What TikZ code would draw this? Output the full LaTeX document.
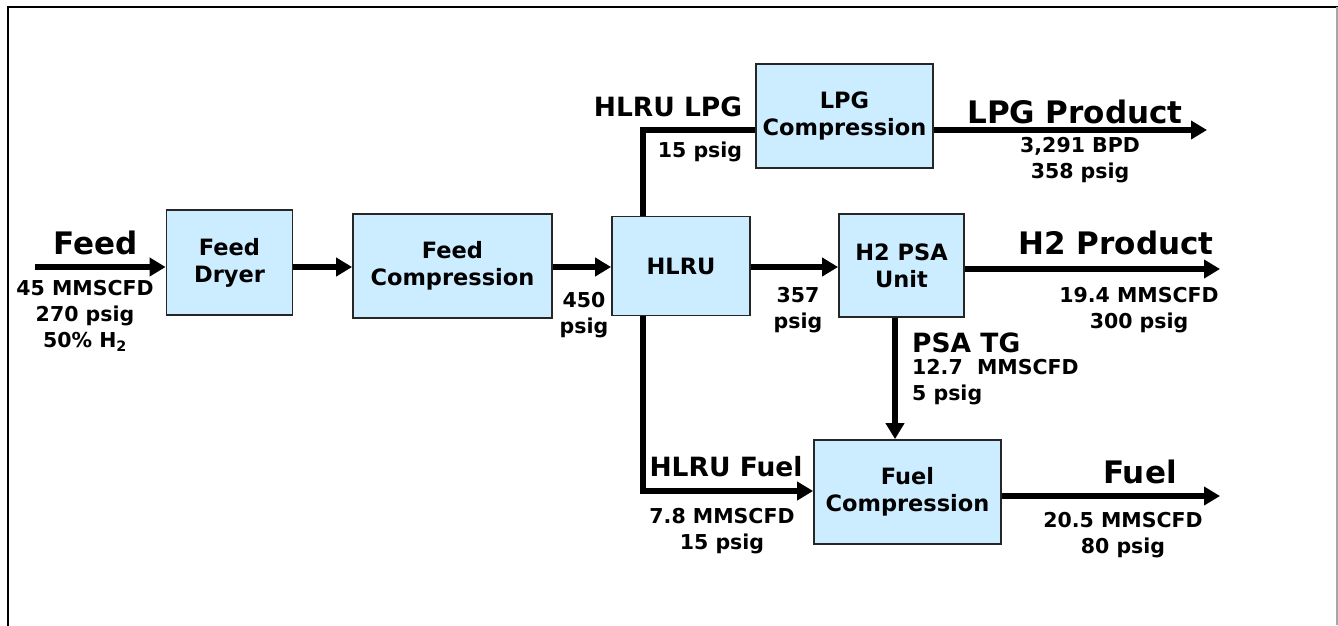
\documentclass[tikz,border=0pt]{standalone}
\usepackage{fontspec}
\setmainfont{DejaVu Sans}
\usetikzlibrary{arrows.meta}
\definecolor{boxblue}{RGB}{204,236,255}
\begin{document}
\begin{tikzpicture}[x=1pt,y=-1pt,
  unit/.style={draw=black!85, line width=1.8pt, fill=boxblue, align=center,
    font=\fontsize{22.5}{27}\selectfont\bfseries, inner sep=0pt},
  flow/.style={line width=6pt, line join=miter, -{Triangle[length=16pt,width=18pt]}},
  pipe/.style={line width=6pt, line join=miter},
  biglbl/.style={font=\fontsize{31}{34}\selectfont\bfseries, inner sep=0pt},
  midlbl/.style={font=\fontsize{26.5}{30}\selectfont\bfseries, inner sep=0pt},
  info/.style={font=\fontsize{20.5}{26}\selectfont\bfseries, align=center, inner sep=0pt},
]
\useasboundingbox (0,0) rectangle (1338,625);
% frame
\draw[line width=2.7pt, line cap=rect] (8,625) -- (8,7) -- (1337,7);
\draw[gray!70, line width=1.5pt] (1337,7) -- (1337,625);

% units
\node[unit, minimum width=126pt, minimum height=105pt] (dryer) at (229.5,262.5) {Feed\\Dryer};
\node[unit, minimum width=199pt, minimum height=104pt] (fcomp) at (452.5,266) {Feed\\Compression};
\node[unit, minimum width=138pt, minimum height=99pt] (hlru) at (681,266) {HLRU};
\node[unit, minimum width=125pt, minimum height=103pt] (psa) at (901.5,265.5) {H2 PSA\\Unit};
\node[unit, minimum width=177pt, minimum height=104pt] (lpg) at (844.5,116) {LPG\\Compression};
\node[unit, minimum width=187pt, minimum height=104pt] (fuel) at (907.5,492) {Fuel\\Compression};

% helper coordinates
\coordinate (mainy) at (0,267);
\coordinate (feedin) at (35,267);
\coordinate (tap) at (643,0);
\coordinate (lpgy) at (0,130);
\coordinate (lpgout) at (1207,130);
\coordinate (h2y) at (0,269);
\coordinate (h2out) at (1220,269);
\coordinate (tgx) at (895,0);
\coordinate (fuely) at (0,491);
\coordinate (fueloy) at (0,496);
\coordinate (fuelout) at (1220,496);

% connectors
\draw[flow] (feedin) -- (dryer.west |- mainy);
\draw[flow] (dryer.east |- mainy) -- (fcomp.west |- mainy);
\draw[flow] (fcomp.east |- mainy) -- (hlru.west |- mainy);
\draw[flow] (hlru.east |- mainy) -- (psa.west |- mainy);
\draw[pipe] (hlru.north -| tap) |- (lpg.west |- lpgy);
\draw[flow] (lpg.east |- lpgy) -- (lpgout);
\draw[flow] (psa.east |- h2y) -- (h2out);
\draw[flow] (hlru.south -| tap) |- (fuel.west |- fuely);
\draw[flow] (psa.south -| tgx) -- (fuel.north -| tgx);
\draw[flow] (fuel.east |- fueloy) -- (fuelout);

% labels
\node[biglbl] (lfeed) at (96,243) {Feed};
\node[info] (ifeed) at (85,316) {45 MMSCFD\\270 psig\\50\% H\textsubscript{2}};
\node[info] (i450) at (584,315) {450\\psig};
\node[info] (i357) at (798,310) {357\\psig};
\node[midlbl, anchor=west] (ltg) at (912,343) {PSA TG};
\node[info, align=left, anchor=west] (itg) at (912,382) {12.7\ \ MMSCFD\\5 psig};
\node[midlbl] (llpg) at (668,107) {HLRU LPG};
\node[info] (ilpg) at (700,152) {15 psig};
\node[biglbl] (plpg) at (1075,112) {LPG Product};
\node[info] (iplpg) at (1080,160) {3,291 BPD\\358 psig};
\node[biglbl] (ph2) at (1116,243) {H2 Product};
\node[info] (iph2) at (1139,310) {19.4 MMSCFD\\300 psig};
\node[midlbl] (lfuel) at (726,467) {HLRU Fuel};
\node[info] (ifuel) at (722,531) {7.8 MMSCFD\\15 psig};
\node[biglbl] (pfuel) at (1140,472) {Fuel};
\node[info] (ipfuel) at (1123,535) {20.5 MMSCFD\\80 psig};
\end{tikzpicture}
\end{document}
